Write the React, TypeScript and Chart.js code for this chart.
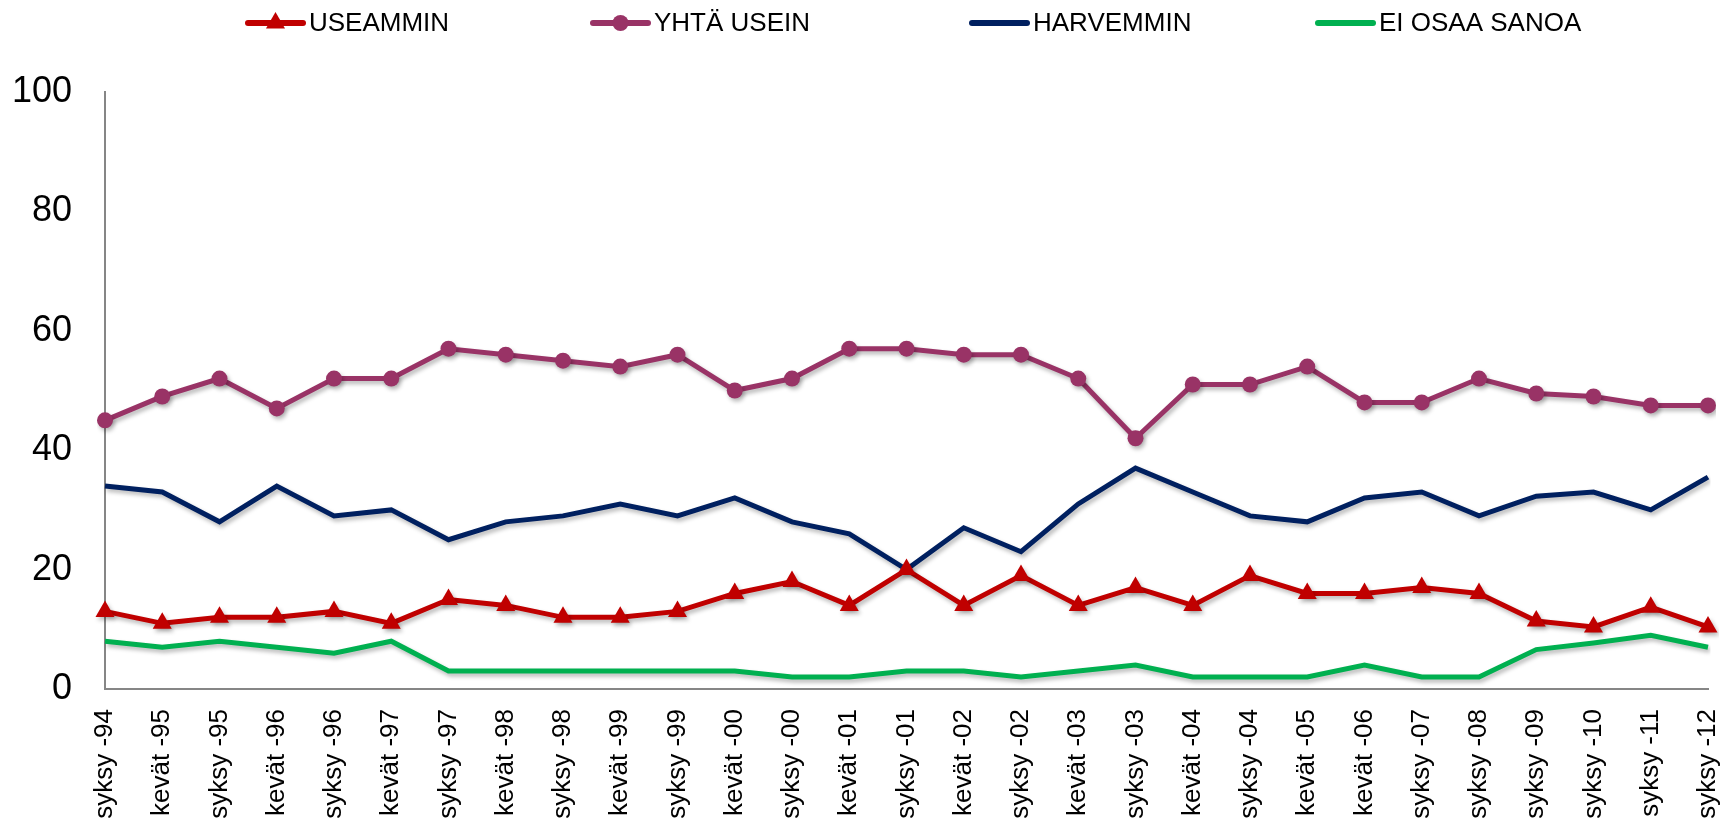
import React, { useEffect, useRef } from "react";
import { Chart, registerables } from "chart.js";

Chart.register(...registerables);

const categories = [
  "syksy -94", "kevät -95", "syksy -95", "kevät -96", "syksy -96", "kevät -97",
  "syksy -97", "kevät -98", "syksy -98", "kevät -99", "syksy -99", "kevät -00",
  "syksy -00", "kevät -01", "syksy -01", "kevät -02", "syksy -02", "kevät -03",
  "syksy -03", "kevät -04", "syksy -04", "kevät -05", "kevät -06", "syksy -07",
  "syksy -08", "syksy -09", "syksy -10", "syksy -11", "syksy -12",
];

const useammin = [13, 11, 12, 12, 13, 11, 15, 14, 12, 12, 13, 16, 18, 14, 20, 14, 19, 14, 17, 14, 19, 16, 16, 17, 16, 11.4, 10.4, 13.7, 10.4];
const yhtaUsein = [45, 49, 52, 47, 52, 52, 57, 56, 55, 54, 56, 50, 52, 57, 57, 56, 56, 52, 42, 51, 51, 54, 48, 48, 52, 49.5, 49, 47.5, 47.5];
const harvemmin = [34, 33, 28, 34, 29, 30, 25, 28, 29, 31, 29, 32, 28, 26, 20, 27, 23, 31, 37, 33, 29, 28, 32, 33, 29, 32.3, 33, 30, 35.5];
const eiOsaaSanoa = [8, 7, 8, 7, 6, 8, 3, 3, 3, 3, 3, 3, 2, 2, 3, 3, 2, 3, 4, 2, 2, 2, 4, 2, 2, 6.6, 7.7, 9, 7];

const seriesNames = ["USEAMMIN", "YHTÄ USEIN", "HARVEMMIN", "EI OSAA SANOA"];
const seriesColors = ["#C00000", "#993366", "#002060", "#00B050"];
const yTickValues = [0, 20, 40, 60, 80, 100];

const FONT = "'Liberation Sans', Arial, sans-serif";

const shadowPlugin = {
  id: "lineShadow",
  beforeDatasetDraw(chart: any) {
    const ctx = chart.ctx;
    ctx.save();
    ctx.shadowColor = "rgba(0,0,0,0.28)";
    ctx.shadowBlur = 4;
    ctx.shadowOffsetX = 2;
    ctx.shadowOffsetY = 3;
  },
  afterDatasetDraw(chart: any) {
    chart.ctx.restore();
  },
};

const legendStarts = [248, 593, 972, 1318];

const legendPlugin = {
  id: "customLegend",
  afterDraw(chart: any) {
    const ctx = chart.ctx;
    const y = 23;
    ctx.save();
    chart.data.datasets.forEach((ds: any, i: number) => {
      const x = legendStarts[i];
      ctx.strokeStyle = ds.borderColor;
      ctx.lineWidth = 6;
      ctx.lineCap = "round";
      ctx.beginPath();
      ctx.moveTo(x, y);
      ctx.lineTo(x + 55, y);
      ctx.stroke();
      const cx = x + 27.5;
      ctx.fillStyle = ds.borderColor;
      if (ds.pointStyle === "circle" && ds.pointRadius > 0) {
        ctx.beginPath();
        ctx.arc(cx, y, ds.pointRadius, 0, Math.PI * 2);
        ctx.fill();
      } else if (ds.pointStyle === "triangle" && ds.pointRadius > 0) {
        const r = ds.pointRadius;
        ctx.beginPath();
        ctx.moveTo(cx, y - r);
        ctx.lineTo(cx + r * 0.866, y + r * 0.5);
        ctx.lineTo(cx - r * 0.866, y + r * 0.5);
        ctx.closePath();
        ctx.fill();
      }
      ctx.fillStyle = "#000";
      ctx.font = `26px ${FONT}`;
      ctx.textBaseline = "middle";
      ctx.textAlign = "left";
      ctx.fillText(ds.label, x + 61, y + 1);
    });
    ctx.restore();
  },
};

export default function App() {
  const canvasRef = useRef<HTMLCanvasElement | null>(null);

  useEffect(() => {
    if (!canvasRef.current) return;
    const lineDs = (i: number, data: number[], pointStyle: string, radius: number) => ({
      label: seriesNames[i],
      data,
      borderColor: seriesColors[i],
      backgroundColor: seriesColors[i],
      pointBackgroundColor: seriesColors[i],
      pointBorderColor: seriesColors[i],
      borderWidth: 5,
      pointStyle,
      pointRadius: radius,
      pointHoverRadius: radius,
      pointBorderWidth: 0,
      tension: 0,
      fill: false,
    });
    const chart = new Chart(canvasRef.current, {
      type: "line",
      data: {
        labels: categories,
        datasets: [
          lineDs(0, useammin, "triangle", 11),
          lineDs(1, yhtaUsein, "circle", 8),
          lineDs(2, harvemmin, "circle", 0),
          lineDs(3, eiOsaaSanoa, "circle", 0),
        ],
      },
      options: {
        animation: false,
        responsive: false,
        maintainAspectRatio: false,
        layout: { padding: { top: 92, right: 18, left: 0, bottom: 0 } },
        plugins: {
          legend: { display: false },
          tooltip: { enabled: false },
        },
        scales: {
          x: {
            type: "category",
            offset: false,
            grid: { display: false, drawTicks: false },
            border: { display: true, color: "#868686", width: 2 },
            ticks: {
              autoSkip: false,
              maxRotation: 90,
              minRotation: 90,
              padding: 20,
              color: "#000",
              font: { family: FONT, size: 26 },
            },
            afterFit: (s: any) => {
              s.height = 134;
              s.paddingLeft = 0;
              s.paddingRight = 0;
            },
          },
          y: {
            min: 0,
            max: 100,
            grid: { display: false, drawTicks: false },
            border: { display: true, color: "#868686", width: 2 },
            afterBuildTicks: (s: any) => {
              s.ticks = yTickValues.map((v) => ({ value: v }));
            },
            ticks: {
              padding: 33,
              color: "#000",
              font: { family: FONT, size: 36 },
            },
            afterFit: (s: any) => {
              s.width = 105;
            },
          },
        },
      },
      plugins: [shadowPlugin, legendPlugin],
    } as any);
    return () => chart.destroy();
  }, []);

  return (
    <div style={{ position: "absolute", left: 0, top: 0, width: 1726, height: 823, background: "#fff" }}>
      <canvas ref={canvasRef} width={1726} height={823} style={{ display: "block" }} />
    </div>
  );
}
